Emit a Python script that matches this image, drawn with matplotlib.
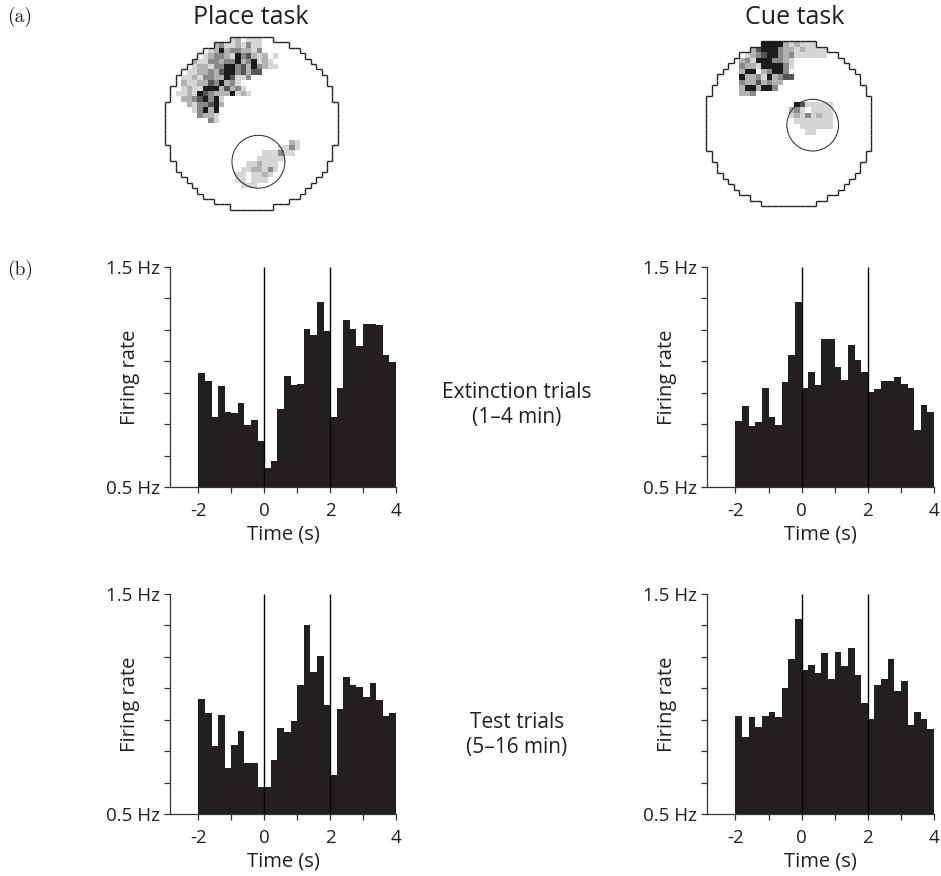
import numpy as np
import matplotlib.pyplot as plt
from matplotlib.colors import ListedColormap
from matplotlib.collections import LineCollection
from matplotlib.patches import Circle

#==================================================================
#   Place cell: firing maps (a) and peri-event histograms (b)
#==================================================================

W, H = 941, 876

# 30 bins of 0.2 s from -2 to 4 s
time_edges = np.linspace(-2, 4, 31)

place_extinction = [1.02, 0.98, 0.82, 0.96, 0.84, 0.835, 0.88, 0.78, 0.805, 0.71,
                    0.585, 0.62, 0.855, 1.005, 0.965, 0.97, 1.22, 1.19, 1.34, 1.21,
                    0.82, 0.95, 1.26, 1.22, 1.14, 1.24, 1.24, 1.235, 1.10, 1.07]
cue_extinction = [0.80, 0.867, 0.776, 0.794, 0.95, 0.817, 0.783, 0.976, 1.10, 1.34,
                  0.95, 1.023, 0.964, 1.174, 1.174, 1.047, 0.986, 1.144, 1.079, 1.023,
                  0.932, 0.944, 0.98, 0.98, 1.0, 0.968, 0.95, 0.758, 0.873, 0.841]
place_test = [1.024, 0.958, 0.808, 0.95, 0.709, 0.812, 0.879, 0.733, 0.733, 0.624,
              0.624, 0.745, 0.891, 0.873, 0.921, 1.085, 1.358, 1.145, 1.217, 0.994,
              0.679, 0.976, 1.121, 1.085, 1.079, 1.032, 1.095, 1.018, 0.945, 0.958]
cue_test = [0.945, 0.848, 0.939, 0.897, 0.945, 0.964, 0.939, 1.073, 1.206, 1.388,
            1.153, 1.176, 1.139, 1.23, 1.115, 1.236, 1.171, 1.255, 1.133, 1.006,
            0.933, 1.085, 1.115, 1.206, 1.061, 1.103, 0.903, 0.964, 0.933, 0.885]

row_labels = [("Extinction trials", "(1\u20134 min)"), ("Test trials", "(5\u201316 min)")]

# firing map cells: (row, first column, grey levels 1..5, 0 = empty)
place_map_rows = [
    (0, 12, "1201110"),
    (1, 9, "231121311"),
    (2, 8, "1252332213"),
    (3, 7, "12332153421201"),
    (4, 5, "211332335235121"),
    (5, 5, "1221335534253211"),
    (6, 4, "11223245534244"),
    (7, 3, "1121332254113"),
    (8, 3, "21122435231"),
    (9, 3, "121155524231"),
    (10, 2, "11215432225121"),
    (11, 3, "22345351"),
    (12, 4, "2133452"),
    (13, 5, "13525"),
    (14, 6, "3221"),
    (15, 8, "31"),
    (19, 23, "21"),
    (20, 21, "1131"),
    (21, 18, "111311"),
    (22, 17, "11111"),
    (23, 15, "112111"),
    (24, 14, "1122131"),
    (25, 13, "1101121"),
    (26, 13, "110111"),
    (27, 14, "111"),
]
cue_map_rows = [
    (0, 10, "5555212111"),
    (1, 8, "24555322121111"),
    (2, 7, "123455323111111"),
    (3, 6, "2315553321"),
    (4, 6, "3221555531"),
    (5, 6, "255023553"),
    (6, 6, "5223152344"),
    (7, 6, "32242322"),
    (8, 6, "2552553"),
    (9, 6, "223"),
    (11, 16, "5411111"),
    (12, 15, "23101111"),
    (13, 15, "12131211"),
    (14, 16, "1111111"),
    (15, 17, "111111"),
    (16, 18, "11"),
]

grey_levels = ['#d6d6d6', '#b2b2b2', '#8a8a8a', '#555555', '#1c1a1a']
bar_color = '#231f20'
text_color = '#231f20'

plt.rcParams['font.family'] = ['Open Sans', 'DejaVu Sans']


def px_rect(left, top, width, height):
    return [left / W, 1 - (top + height) / H, width / W, height / H]


def build_grid(n, rows, radius):
    grid = np.zeros((n, n))
    for r, c0, pattern in rows:
        for k, ch in enumerate(pattern):
            grid[r, c0 + k] = int(ch)
    yy, xx = np.mgrid[0:n, 0:n] + 0.5
    mask = (xx - n / 2) ** 2 + (yy - n / 2) ** 2 <= radius ** 2
    grid[~mask] = 0
    return grid, mask


def outline_segments(mask):
    n = mask.shape[0]
    p = np.pad(mask, 1)
    segs = []
    for r in range(n):
        for c in range(n):
            if not mask[r, c]:
                continue
            if not p[r, c + 1]:
                segs.append([(c, r), (c + 1, r)])
            if not p[r + 2, c + 1]:
                segs.append([(c, r + 1), (c + 1, r + 1)])
            if not p[r + 1, c]:
                segs.append([(c, r), (c, r + 1)])
            if not p[r + 1, c + 2]:
                segs.append([(c + 1, r), (c + 1, r + 1)])
    return segs


def draw_map(rect, n, rows, radius, goal):
    ax = fig.add_axes(rect)
    grid, mask = build_grid(n, rows, radius)
    data = np.ma.masked_equal(grid, 0)
    ax.pcolormesh(np.arange(n + 1), np.arange(n + 1), data,
                  cmap=ListedColormap(grey_levels), vmin=0.5, vmax=5.5)
    ax.add_collection(LineCollection(outline_segments(mask), colors='#222222', linewidths=1.0))
    ax.add_patch(Circle(goal[:2], goal[2], fill=False, edgecolor='#222222', lw=0.7))
    ax.set_xlim(-0.5, n + 0.5)
    ax.set_ylim(n + 0.5, -0.5)
    ax.set_aspect('equal')
    ax.axis('off')
    return ax


def draw_histogram(rect, values):
    ax = fig.add_axes(rect)
    values = np.array(values)
    ax.bar(time_edges[:-1], values - 0.5, width=np.diff(time_edges), bottom=0.5,
           align='edge', color=bar_color, linewidth=0)
    ax.vlines([0, 2], 0.5, 1.5, color='black', lw=1.0, zorder=3)
    ax.set_xlim(-2.86, 4)
    ax.set_ylim(0.5, 1.5)
    ax.spines['top'].set_visible(False)
    ax.spines['right'].set_visible(False)
    for s in ['left', 'bottom']:
        ax.spines[s].set_linewidth(0.9)
        ax.spines[s].set_color('#333333')
    ax.set_xticks(np.arange(-2, 5, 1))
    ax.set_xticklabels(['-2', '', '0', '', '2', '', '4'])
    yt = np.linspace(0.5, 1.5, 8)
    ax.set_yticks(yt)
    ax.set_yticklabels(['0.5 Hz'] + [''] * 6 + ['1.5 Hz'])
    ax.tick_params(axis='both', direction='out', length=4, width=0.9,
                   colors='#333333', labelcolor=text_color, labelsize=13.5)
    ax.tick_params(axis='x', pad=7)
    ax.tick_params(axis='y', pad=3)
    ax.set_xlabel('Time (s)', fontsize=14.5, color=text_color, labelpad=3)
    ax.set_ylabel('Firing rate', fontsize=14.5, color=text_color, labelpad=-24)
    return ax


fig = plt.figure(figsize=(W / 100, H / 100), dpi=100)

# (a) firing maps
draw_map(px_rect(165 - 2.7, 37 - 2.7, 32 * 5.4 + 5.4, 32 * 5.4 + 5.4), 32, place_map_rows, 16.0,
         (17.3, 23.1, 4.9))
draw_map(px_rect(706 - 2.75, 41 - 2.75, 30 * 5.5 + 5.5, 30 * 5.5 + 5.5), 30, cue_map_rows, 15.3,
         (19.4, 15.3, 4.7))

fig.text(251 / W, 1 - 17 / H, 'Place task', ha='center', va='center', fontsize=18, color=text_color)
fig.text(795 / W, 1 - 17 / H, 'Cue task', ha='center', va='center', fontsize=18, color=text_color)
fig.text(20 / W, 1 - 17 / H, '(a)', ha='center', va='center', fontsize=14,
         family='cmr10', color=text_color)
fig.text(20 / W, 1 - 270 / H, '(b)', ha='center', va='center', fontsize=14,
         family='cmr10', color=text_color)

# (b) histograms
draw_histogram(px_rect(170, 267, 226, 220), place_extinction)
draw_histogram(px_rect(707, 267, 227, 220), cue_extinction)
draw_histogram(px_rect(170, 594, 226, 220), place_test)
draw_histogram(px_rect(707, 594, 227, 220), cue_test)

for (line1, line2), y in zip(row_labels, [392, 722]):
    fig.text(517 / W, 1 - y / H, line1, ha='center', va='center', fontsize=15, color=text_color)
    fig.text(517 / W, 1 - (y + 25) / H, line2, ha='center', va='center', fontsize=15, color=text_color)

fig.savefig('out.png', dpi=100)
